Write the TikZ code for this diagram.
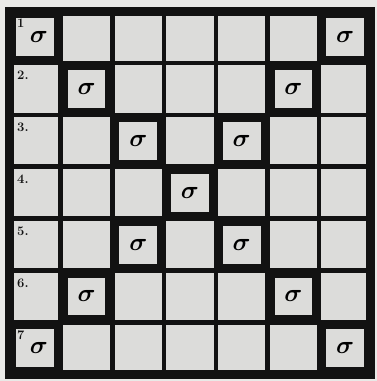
\documentclass[tikz,border=0pt]{standalone}
\usepackage{amsmath}
\usepackage{amssymb}
\usepackage{tikz}
\usetikzlibrary{positioning}
\definecolor{paper}{HTML}{E9E9E7}
\definecolor{cellgray}{HTML}{DCDCDA}
\definecolor{ink}{HTML}{121212}

\begin{document}
\begin{tikzpicture}[
    x=1pt, y=-1pt,
    cell/.style={draw=ink, line width=4.5pt, fill=cellgray, minimum width=51.7pt, minimum height=51.9pt, inner sep=0pt, outer sep=0pt},
    sigcell/.style={draw=ink, line width=7pt, fill=cellgray, minimum width=44.7pt, minimum height=44.9pt, inner sep=0pt, outer sep=0pt},
    sig/.style={font=\fontsize{34}{34}\selectfont, inner sep=0pt},
    rownum/.style={font=\fontsize{13}{13}\selectfont\bfseries, text=ink, inner sep=0pt},
]
    % Paper
    \fill[paper] (0,0) rectangle (377,381);
    \useasboundingbox (0,0) rectangle (377,381);

    % Grid of cells
    \foreach \r in {1,...,7} {
        \foreach \c in {1,...,7} {
            \node[cell] (c\r\c) at ({9+51.7*(\c-0.5)}, {11+51.9*(\r-0.5)}) {};
        }
    }

    % Outer frame
    \draw[ink, line width=9pt] (c11.north west) rectangle (c77.south east);

    % Marked cells on both diagonals
    \foreach \r/\c/\dx in {1/1/4, 1/7/0, 2/2/0, 2/6/0, 3/3/0, 3/5/0, 4/4/0, 5/3/0, 5/5/0, 6/2/0, 6/6/0, 7/1/4, 7/7/0} {
        \node[sigcell] (s\r\c) at (c\r\c) {};
        \node[sig, xshift=\dx pt] (g\r\c) at (s\r\c) {$\boldsymbol{\sigma}$};
    }

    % Row numbers
    \foreach \r/\t in {1/1, 2/2., 3/3., 4/4., 5/5., 6/6., 7/7} {
        \node[rownum, below right=8pt and 8pt of c\r1.north west] (n\r) {\t};
    }
\end{tikzpicture}
\end{document}
